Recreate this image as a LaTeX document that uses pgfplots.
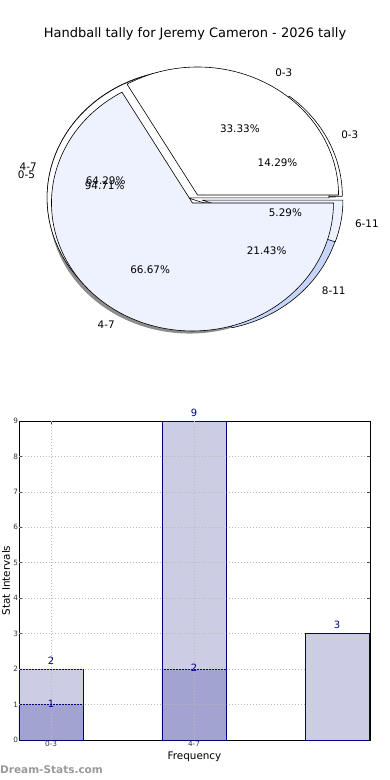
\documentclass[border=0pt]{standalone}
\usepackage{fontspec}
\setmainfont{DejaVu Sans}
\usepackage{pgfplots}
\pgfplotsset{compat=1.18}
\definecolor{pieA}{HTML}{FFFFFF}
\definecolor{pieB}{HTML}{EEF2FF}
\definecolor{pieC}{HTML}{C6D6FA}
\definecolor{barLight}{HTML}{CCCCE4}
\definecolor{barDark}{HTML}{A3A3D1}
\definecolor{navyc}{HTML}{000080}
\definecolor{shadowc}{HTML}{8C8C8C}
% wedge: start angle, end angle, offset x, offset y, fill
\newcommand\pieWedge[5]{%
  \addplot[fill=#5, draw=black, line width=0.6pt, line join=round, domain=#1:#2, samples=120] ({#3+cos(x)},{#4+sin(x)}) -- (axis cs:#3,#4) -- cycle;}
\newcommand\pieShadow[4]{%
  \addplot[fill=shadowc, draw=none, domain=#1:#2, samples=120] ({#3+cos(x)},{#4+sin(x)}) -- (axis cs:#3,#4) -- cycle;}
\begin{document}
\begin{tikzpicture}[x=1pt,y=1pt]
\useasboundingbox (0,0) rectangle (390,780);
\node[font=\fontsize{13}{15}\selectfont] at (195,746) {Handball tally for Jeremy Cameron - 2026 tally};

\begin{axis}[at={(195pt,581pt)}, anchor=center, scale only axis,
  width=352.5pt, height=320pt, xmin=-1.25, xmax=1.25, ymin=-1.25, ymax=1.25,
  axis lines=none, clip=false]
% shadows (outer pie)
\pieShadow{0}{120}{-0.002}{0.0112}
\pieShadow{120}{360}{-0.038}{-0.0512}
% pie 2: 0-3 14.29, 4-7 64.29, 8-11 21.43
\pieWedge{0}{51.44}{0.0450}{0.0217}{pieA}
\pieWedge{51.44}{282.88}{-0.0487}{0.0111}{pieB}
\pieWedge{282.88}{360}{0.0391}{-0.0312}{pieC}
% pie 3: 0-5 94.71, 6-11 5.29
\pieWedge{0}{340.96}{-0.0493}{0.0083}{pieA}
\pieWedge{340.96}{360}{0.0493}{-0.0083}{pieB}
% pie 1: 0-3 33.33, 4-7 66.67
\pieWedge{0}{120}{0.0180}{0.0312}{pieA}
\pieWedge{120}{360}{-0.0180}{-0.0312}{pieB}
% labels
\begin{scope}[every node/.style={font=\fontsize{10.4}{12}\selectfont, inner sep=0pt}]
\node[anchor=west] at (axis cs:0.568,0.984) {0-3};
\node at (axis cs:0.318,0.551) {33.33\%};
\node[anchor=east] at (axis cs:-0.568,-0.984) {4-7};
\node at (axis cs:-0.318,-0.551) {66.67\%};
\node[anchor=west] at (axis cs:1.036,0.499) {0-3};
\node at (axis cs:0.5855,0.2821) {14.29\%};
\node[anchor=east] at (axis cs:-1.1212,0.2555) {4-7};
\node at (axis cs:-0.6337,0.1444) {64.29\%};
\node[anchor=west] at (axis cs:0.8988,-0.7169) {8-11};
\node at (axis cs:0.508,-0.4052) {21.43\%};
\node[anchor=east] at (axis cs:-1.1341,0.1902) {0-5};
\node at (axis cs:-0.641,0.1075) {94.71\%};
\node[anchor=west] at (axis cs:1.1341,-0.1902) {6-11};
\node at (axis cs:0.641,-0.1075) {5.29\%};
\end{scope}
\end{axis}

\begin{axis}[at={(19pt,40pt)}, anchor=south west, scale only axis,
  width=351pt, height=319pt,
  xmin=-0.2238, xmax=2.2308, ymin=0, ymax=9, enlargelimits=false,
  ybar, bar width=0.4476, bar shift=0pt,
  xtick={0,1}, xticklabels={0-3,4-7}, ytick={0,1,...,9},
  grid=major, grid style={gray!55, line width=0.7pt, dash pattern=on 0.8pt off 2.2pt},
  tick align=inside, major tick length=3.5pt, tick style={black!70, line width=0.6pt},
  axis line style={line width=0.9pt},
  tick label style={font=\fontsize{7.3}{8}\selectfont, text=black!80},
  /pgf/number format/assume math mode=true,
  yticklabel style={inner sep=0.8pt}, xticklabel style={inner sep=1pt},
  xlabel={Frequency}, ylabel={Stat Intervals},
  label style={font=\fontsize{10.4}{12}\selectfont},
  xlabel style={at={(axis description cs:0.5,-0.0533)}, anchor=center},
  ylabel style={at={(axis description cs:-0.037,0.5)}, anchor=center},
  clip=false,
  nodes near coords,
  every node near coord/.append style={font=\fontsize{10}{12}\selectfont, text=navyc, anchor=center}]
\addplot[fill=barLight, draw=navyc, line width=0.8pt, every node near coord/.append style={yshift=8.5pt}] coordinates {(0,2) (1,9)};
\addplot[fill=barDark, draw=navyc, line width=0.8pt, every node near coord/.append style={yshift=1pt}] coordinates {(0,1) (1,2)};
\pgfplotsinvokeforeach{1,2,3,4,5,6,7,8}{\draw[gray!55, line width=0.7pt, dash pattern=on 0.8pt off 2.2pt] (axis cs:-0.2238,#1) -- (axis cs:1.2238,#1);}
\draw[gray!55, line width=0.7pt, dash pattern=on 0.8pt off 2.2pt] (axis cs:0,0) -- (axis cs:0,9);
\draw[gray!55, line width=0.7pt, dash pattern=on 0.8pt off 2.2pt] (axis cs:1,0) -- (axis cs:1,9);
\addplot[fill=barLight, draw=navyc, line width=0.8pt, every node near coord/.append style={yshift=8.5pt}] coordinates {(2,3)};
\end{axis}
\node[anchor=west, inner sep=0pt, font=\fontsize{10.5}{12}\selectfont\bfseries, text=black!40] at (0,10) {Dream-Stats.com};
\end{tikzpicture}
\end{document}
